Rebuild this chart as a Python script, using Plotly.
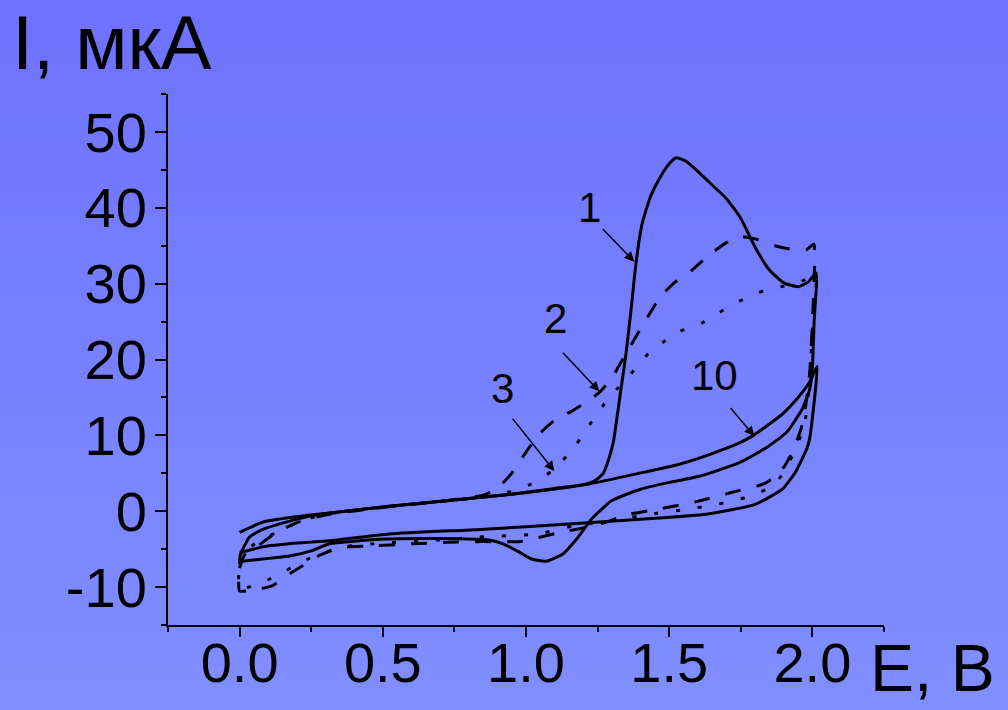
import plotly.graph_objects as go

# ---------------- data (E in V, I in uA) ----------------
# curve 1 (first cycle, solid)
c1_fwd_E = [0.0, 0.003, 0.035, 0.08, 0.175, 0.25, 0.3, 0.523, 0.94, 1.1, 1.2, 1.24, 1.27, 1.29, 1.305, 1.32,
            1.335, 1.35, 1.368, 1.385, 1.406, 1.435, 1.465, 1.5, 1.525, 1.56, 1.6, 1.65, 1.7, 1.75, 1.8,
            1.85, 1.9, 1.95, 1.985, 2.013]
c1_fwd_I = [-6.8, -5.7, -3.4, -2.4, -1.3, -0.6, -0.3, 0.66, 2.2, 3.0, 3.5, 4.0, 5.0, 7.0, 9.1, 13.0,
            17.0, 21.0, 27.0, 33.0, 38.0, 41.5, 43.8, 45.8, 46.6, 46.1, 44.8, 43.0, 41.2, 38.6, 34.8,
            31.8, 30.1, 29.6, 30.2, 31.4]
c1_rev_E = [2.013, 2.006, 2.0, 1.99, 1.965, 1.91, 1.84, 1.745, 1.605, 1.5, 1.4, 1.3, 1.23, 1.176, 1.13,
            1.07, 1.02, 0.977, 0.92, 0.87, 0.7, 0.49, 0.314, 0.244, 0.175, 0.08, 0.01, 0.0]
c1_rev_I = [31.4, 25.0, 19.0, 16.0, 13.5, 10.4, 8.4, 6.4, 4.6, 3.8, 2.9, 1.4, -1.0, -3.7, -5.6,
            -6.6, -6.3, -5.4, -4.3, -3.8, -3.6, -3.7, -4.3, -5.3, -5.9, -6.3, -6.6, -6.8]

# curve 10 (solid)
c10_fwd_E = [0.0, 0.08, 0.185, 0.3, 0.523, 0.94, 1.22, 1.395, 1.535, 1.65, 1.745, 1.79, 1.85, 1.895,
             1.95, 1.99, 2.017]
c10_fwd_I = [-2.8, -1.45, -0.8, -0.3, 0.66, 2.2, 3.6, 5.0, 6.2, 7.6, 9.0, 9.9, 11.5, 12.8,
             15.0, 17.0, 19.1]
c10_rev_E = [2.017, 2.005, 1.99, 1.98, 1.94, 1.895, 1.8, 1.63, 1.40, 1.19, 0.84, 0.523, 0.314, 0.2,
             0.08, 0.007, 0.0]
c10_rev_I = [19.1, 14.0, 9.5, 8.2, 5.1, 2.9, 0.9, -0.4, -1.05, -1.6, -2.4, -3.0, -3.9, -4.2,
             -4.7, -5.4, -5.4]

# curve 2 (dashed)
c2_fwd_E = [0.0, 0.0, 0.02, 0.07, 0.12, 0.2, 0.3, 0.5, 0.7, 0.85, 0.9, 0.95, 1.0, 1.05, 1.1, 1.16,
            1.22, 1.26, 1.3, 1.36, 1.42, 1.47, 1.52, 1.58, 1.64, 1.7, 1.75, 1.81, 1.87, 1.93, 1.98, 2.005]
c2_fwd_I = [-10.5, -7.5, -5.6, -4.4, -3.0, -1.5, -0.5, 0.5, 1.3, 2.1, 3.0, 5.0, 7.8, 10.3, 12.0, 13.2,
            14.6, 15.8, 17.6, 21.5, 25.3, 28.3, 30.2, 31.8, 33.8, 35.4, 36.2, 35.8, 35.0, 34.5, 34.5, 35.2]
c2_rev_E = [2.005, 2.0, 1.99, 1.975, 1.96, 1.93, 1.9, 1.86, 1.83, 1.72, 1.6, 1.465, 1.36, 1.25, 1.106,
            0.98, 0.85, 0.73, 0.6, 0.45, 0.35, 0.28, 0.22, 0.16, 0.115, 0.05, 0.0]
c2_rev_I = [35.2, 25.0, 18.0, 13.5, 10.8, 7.8, 5.8, 4.3, 3.6, 2.5, 1.3, 0.3, -0.4, -1.8, -2.9,
            -4.0, -4.0, -4.1, -4.3, -4.6, -4.8, -5.8, -7.2, -8.6, -9.8, -10.4, -10.5]

# curve 3 (dotted)
c3_fwd_E = [0.0, 0.0, 0.03, 0.08, 0.13, 0.22, 0.3, 0.5, 0.7, 0.85, 0.95, 1.03, 1.09, 1.16, 1.21, 1.256,
            1.315, 1.38, 1.44, 1.5, 1.535, 1.605, 1.675, 1.74, 1.81, 1.88, 1.95, 2.01]
c3_fwd_I = [-10.3, -7.0, -5.0, -3.6, -2.8, -1.2, -0.4, 0.5, 1.3, 1.9, 2.6, 3.8, 5.3, 8.0, 10.7, 13.3,
            16.0, 18.7, 21.3, 22.8, 23.7, 24.6, 26.2, 27.6, 28.8, 29.5, 30.1, 31.0]
c3_rev_E = [2.01, 2.0, 1.99, 1.975, 1.95, 1.9, 1.86, 1.79, 1.72, 1.65, 1.57, 1.45, 1.3, 1.16, 1.04,
            0.9, 0.83, 0.7, 0.5, 0.38, 0.3, 0.22, 0.16, 0.09, 0.04, 0.0]
c3_rev_I = [31.0, 24.0, 17.0, 12.0, 9.0, 5.1, 3.3, 2.1, 1.3, 0.8, 0.3, -0.3, -1.2, -2.0, -3.0,
            -3.3, -3.4, -3.8, -4.2, -4.6, -5.4, -6.6, -7.9, -9.2, -9.9, -10.3]

x_tickvals = [0.0, 0.5, 1.0, 1.5, 2.0]
x_ticktext = ["0.0", "0.5", "1.0", "1.5", "2.0"]
x_minorvals = [-0.25, 0.25, 0.75, 1.25, 1.75, 2.25]
y_tickvals = [-10, 0, 10, 20, 30, 40, 50]
y_ticktext = ["-10", "0", "10", "20", "30", "40", "50"]
y_minorvals = [-15, -5, 5, 15, 25, 35, 45, 55]

# curve labels: text, label position, arrow tail, arrow head
labels = [("1", 1.221, 40.1, 1.263, 37.4, 1.378, 32.9),
          ("2", 1.103, 25.4, 1.124, 21.1, 1.256, 15.8),
          ("3", 0.918, 16.2, 0.949, 12.4, 1.099, 5.3),
          ("10", 1.657, 17.9, 1.71, 13.8, 1.797, 9.9)]

# ---------------- figure ----------------
FONT = "Liberation Sans, Arial, sans-serif"
fig = go.Figure()

def add_curve(E1, I1, E2, I2, dash):
    fig.add_trace(go.Scatter(x=E1 + E2[1:], y=I1 + I2[1:], mode="lines",
                             line=dict(color="black", width=3, dash=dash, shape="spline", smoothing=0.5),
                             hoverinfo="skip", showlegend=False))

add_curve(c10_fwd_E, c10_fwd_I, c10_rev_E, c10_rev_I, "solid")
add_curve(c1_fwd_E, c1_fwd_I, c1_rev_E, c1_rev_I, "solid")
add_curve(c2_fwd_E, c2_fwd_I, c2_rev_E, c2_rev_I, "16px,16px")
add_curve(c3_fwd_E, c3_fwd_I, c3_rev_E, c3_rev_I, "4px,18px")

# background gradient
L, R, T, B = 168, 124, 94, 85
W, H = 1008, 710
pw, ph = W - L - R, H - T - B
top_c = (110, 114, 255)
bot_c = (128, 142, 255)
nb = 80
shapes = []
for k in range(nb):
    f = k / (nb - 1)
    c = tuple(round(top_c[j] + (bot_c[j] - top_c[j]) * f) for j in range(3))
    y0px = H * k / nb - 1
    y1px = H * (k + 1) / nb + 1
    shapes.append(dict(type="rect", xref="paper", yref="paper", layer="below",
                       x0=(-2 - L) / pw, x1=(W + 2 - L) / pw,
                       y0=(H - B - y1px) / ph, y1=(H - B - y0px) / ph,
                       fillcolor="rgb(%d,%d,%d)" % c, line=dict(width=0)))

annotations = []
for (t, lx, ly, tx, ty, hx, hy) in labels:
    annotations.append(dict(x=lx, y=ly, xref="x", yref="y", text=t, showarrow=False,
                            font=dict(family=FONT, size=42, color="black"),
                            xanchor="center", yanchor="middle"))
    annotations.append(dict(x=hx, y=hy, ax=tx, ay=ty, xref="x", yref="y", axref="x", ayref="y",
                            text="", showarrow=True, arrowhead=2, arrowsize=1.3, arrowwidth=1.5,
                            arrowcolor="black"))

annotations.append(dict(x=(10 - L) / pw, y=(H - B - 42) / ph, xref="paper", yref="paper",
                        text="I, мкА", showarrow=False, xanchor="left", yanchor="middle",
                        font=dict(family=FONT, size=76, color="black")))
annotations.append(dict(x=(868 - L) / pw, y=(H - B - 668) / ph, xref="paper", yref="paper",
                        text="E, В", showarrow=False, xanchor="left", yanchor="middle",
                        font=dict(family=FONT, size=66, color="black")))

fig.update_layout(
    width=W, height=H,
    margin=dict(l=L, r=R, t=T, b=B, pad=0, autoexpand=False),
    paper_bgcolor="rgb(118,126,255)",
    plot_bgcolor="rgba(0,0,0,0)",
    shapes=shapes,
    annotations=annotations,
    xaxis=dict(range=[-0.25, 2.25], showgrid=False, zeroline=False, automargin=False,
               showline=True, linecolor="black", linewidth=2,
               ticks="outside", ticklen=10, tickwidth=2, tickcolor="black",
               tickmode="array", tickvals=x_tickvals, ticktext=x_ticktext,
               ticklabelstandoff=-22,
               tickfont=dict(family=FONT, size=56, color="black"),
               minor=dict(tickmode="array", tickvals=x_minorvals, ticks="outside",
                          ticklen=5, tickwidth=2, tickcolor="black", showgrid=False)),
    yaxis=dict(range=[-15, 55], showgrid=False, zeroline=False, automargin=False,
               showline=True, linecolor="black", linewidth=2,
               ticks="outside", ticklen=11, tickwidth=2, tickcolor="black",
               tickmode="array", tickvals=y_tickvals, ticktext=y_ticktext,
               ticklabelstandoff=-3,
               tickfont=dict(family=FONT, size=56, color="black"),
               minor=dict(tickmode="array", tickvals=y_minorvals, ticks="outside",
                          ticklen=5, tickwidth=2, tickcolor="black", showgrid=False)),
)

fig.write_html("out.html")
